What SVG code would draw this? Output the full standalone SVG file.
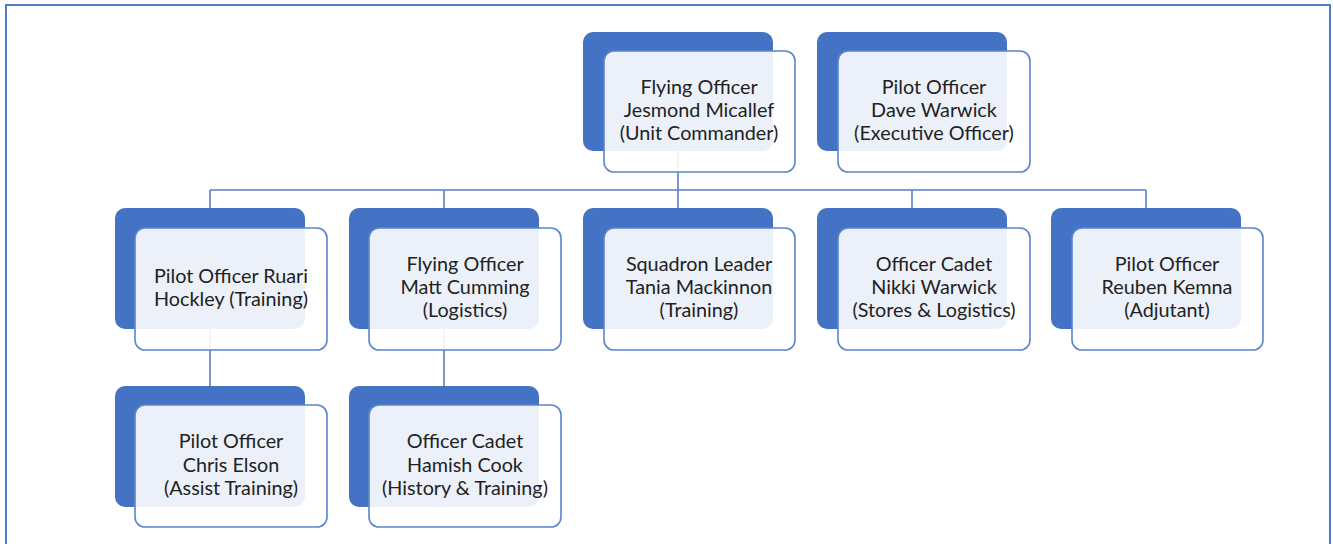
<svg xmlns="http://www.w3.org/2000/svg" width="1333" height="544" viewBox="0 0 1333 544">
<style>
.back{fill:#4472C4;}
.front{fill:#ffffff;fill-opacity:0.9;stroke:#5B84CC;stroke-width:1.6;}
.lbl{font-family:Lato,"Liberation Sans",sans-serif;font-size:19.8px;fill:#222222;text-anchor:middle;}
.conn{fill:none;stroke:#5B7FC2;stroke-width:1.6;}
</style>
<rect width="1333" height="544" fill="#ffffff"/>
<rect x="6" y="5" width="1324" height="560" fill="none" stroke="#4F7BCB" stroke-width="2"/>
<g id="connectors">
<path class="conn" d="M678 151 V208 M210 190 H1146 M210 190 V208 M444 190 V208 M912 190 V208 M1146 190 V208 M210 329 V386 M444 329 V386"/>
</g>
<g id="n-micallef">
<rect class="back" x="583" y="32" width="190" height="119" rx="10"/>
<rect class="front" x="604" y="51" width="191" height="121" rx="10"/>
<text class="lbl" x="699" y="94">Flying Officer</text>
<text class="lbl" x="699" y="117">Jesmond Micallef</text>
<text class="lbl" x="699" y="140">(Unit Commander)</text>
</g>
<g id="n-dwarwick">
<rect class="back" x="817" y="32" width="190" height="119" rx="10"/>
<rect class="front" x="838" y="51" width="192" height="121" rx="10"/>
<text class="lbl" x="934" y="94">Pilot Officer</text>
<text class="lbl" x="934" y="117">Dave Warwick</text>
<text class="lbl" x="934" y="140">(Executive Officer)</text>
</g>
<g id="n-hockley">
<rect class="back" x="115" y="208" width="190" height="121" rx="10"/>
<rect class="front" x="135" y="228" width="192" height="122" rx="10"/>
<text class="lbl" x="231" y="283">Pilot Officer Ruari</text>
<text class="lbl" x="231" y="306">Hockley (Training)</text>
</g>
<g id="n-cumming">
<rect class="back" x="349" y="208" width="190" height="121" rx="10"/>
<rect class="front" x="369" y="228" width="192" height="122" rx="10"/>
<text class="lbl" x="465" y="271">Flying Officer</text>
<text class="lbl" x="465" y="294">Matt Cumming</text>
<text class="lbl" x="465" y="317">(Logistics)</text>
</g>
<g id="n-mackinnon">
<rect class="back" x="583" y="208" width="190" height="121" rx="10"/>
<rect class="front" x="604" y="228" width="191" height="122" rx="10"/>
<text class="lbl" x="699" y="271">Squadron Leader</text>
<text class="lbl" x="699" y="294">Tania Mackinnon</text>
<text class="lbl" x="699" y="317">(Training)</text>
</g>
<g id="n-nwarwick">
<rect class="back" x="817" y="208" width="190" height="121" rx="10"/>
<rect class="front" x="838" y="228" width="192" height="122" rx="10"/>
<text class="lbl" x="934" y="271">Officer Cadet</text>
<text class="lbl" x="934" y="294">Nikki Warwick</text>
<text class="lbl" x="934" y="317">(Stores &amp; Logistics)</text>
</g>
<g id="n-kemna">
<rect class="back" x="1051" y="208" width="190" height="121" rx="10"/>
<rect class="front" x="1072" y="228" width="191" height="122" rx="10"/>
<text class="lbl" x="1167" y="271">Pilot Officer</text>
<text class="lbl" x="1167" y="294">Reuben Kemna</text>
<text class="lbl" x="1167" y="317">(Adjutant)</text>
</g>
<g id="n-elson">
<rect class="back" x="115" y="386" width="190" height="121" rx="10"/>
<rect class="front" x="135" y="405" width="192" height="122" rx="10"/>
<text class="lbl" x="231" y="448">Pilot Officer</text>
<text class="lbl" x="231" y="472">Chris Elson</text>
<text class="lbl" x="231" y="495">(Assist Training)</text>
</g>
<g id="n-cook">
<rect class="back" x="349" y="386" width="190" height="121" rx="10"/>
<rect class="front" x="369" y="405" width="192" height="122" rx="10"/>
<text class="lbl" x="465" y="448">Officer Cadet</text>
<text class="lbl" x="465" y="472">Hamish Cook</text>
<text class="lbl" x="465" y="495">(History &amp; Training)</text>
</g>
</svg>
